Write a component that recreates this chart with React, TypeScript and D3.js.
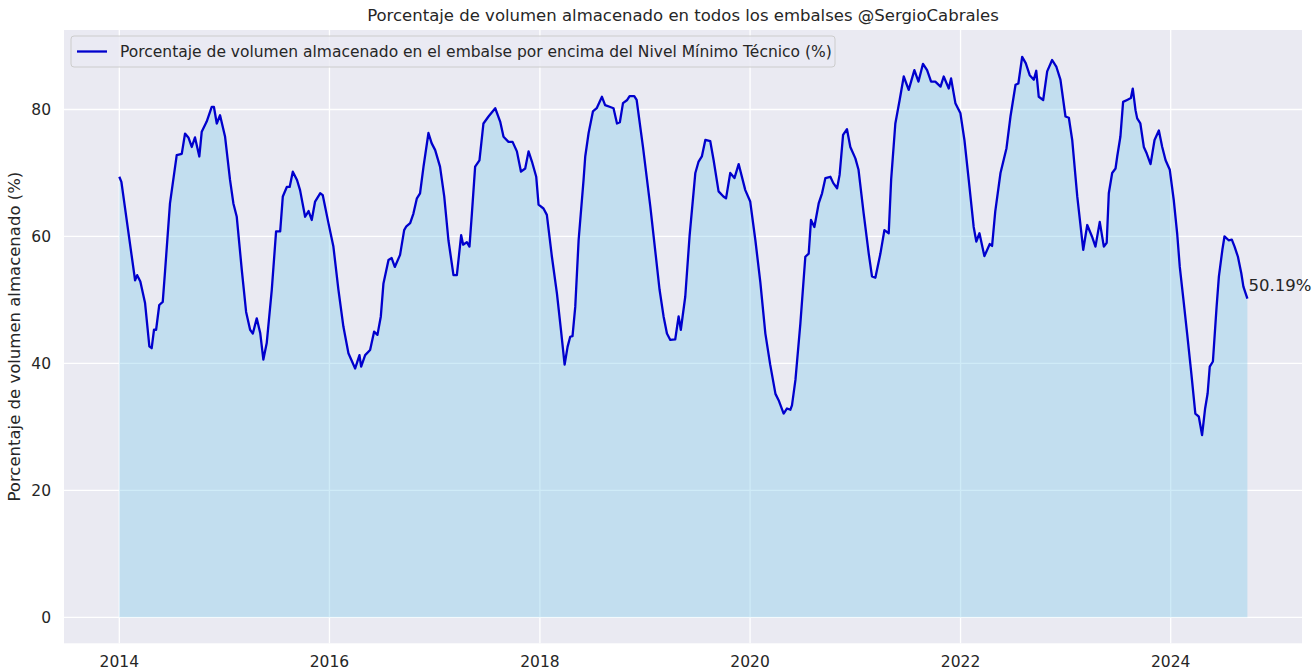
import React from "react";
import * as d3 from "d3";

const years: number[] = [
  2014.0, 2014.02, 2014.15, 2014.17, 2014.2, 2014.245, 2014.286, 2014.308, 2014.33, 2014.35,
  2014.38, 2014.413, 2014.435, 2014.482, 2014.546, 2014.594, 2014.625, 2014.657, 2014.689, 2014.72,
  2014.761, 2014.784, 2014.831, 2014.879, 2014.9, 2014.927, 2014.958, 2015.006, 2015.053, 2015.085,
  2015.117, 2015.165, 2015.206, 2015.244, 2015.27, 2015.307, 2015.34, 2015.37, 2015.402, 2015.45,
  2015.491, 2015.53, 2015.555, 2015.593, 2015.62, 2015.65, 2015.69, 2015.719, 2015.767, 2015.8,
  2015.83, 2015.862, 2015.91, 2015.935, 2015.989, 2016.036, 2016.084, 2016.131, 2016.179, 2016.243,
  2016.284, 2016.3, 2016.338, 2016.385, 2016.423, 2016.455, 2016.487, 2016.512, 2016.56, 2016.59,
  2016.62, 2016.67, 2016.709, 2016.73, 2016.766, 2016.797, 2016.83, 2016.86, 2016.893, 2016.94,
  2016.97, 2017.004, 2017.05, 2017.09, 2017.13, 2017.178, 2017.21, 2017.251, 2017.27, 2017.305,
  2017.33, 2017.353, 2017.384, 2017.425, 2017.463, 2017.511, 2017.575, 2017.622, 2017.654, 2017.701,
  2017.74, 2017.781, 2017.82, 2017.86, 2017.892, 2017.924, 2017.965, 2017.987, 2018.034, 2018.066,
  2018.114, 2018.162, 2018.2, 2018.235, 2018.263, 2018.288, 2018.31, 2018.336, 2018.368, 2018.415,
  2018.431, 2018.463, 2018.504, 2018.54, 2018.59, 2018.62, 2018.669, 2018.7, 2018.733, 2018.76,
  2018.79, 2018.83, 2018.853, 2018.897, 2018.92, 2018.98, 2019.05, 2019.138, 2019.176, 2019.208,
  2019.24, 2019.287, 2019.319, 2019.34, 2019.382, 2019.423, 2019.478, 2019.509, 2019.54, 2019.573,
  2019.62, 2019.652, 2019.699, 2019.745, 2019.77, 2019.81, 2019.85, 2019.89, 2019.953, 2020.0,
  2020.049, 2020.096, 2020.144, 2020.19, 2020.24, 2020.27, 2020.318, 2020.35, 2020.382, 2020.397,
  2020.43, 2020.477, 2020.524, 2020.556, 2020.578, 2020.61, 2020.651, 2020.683, 2020.715, 2020.762,
  2020.79, 2020.826, 2020.85, 2020.883, 2020.92, 2020.952, 2021.0, 2021.03, 2021.079, 2021.127,
  2021.158, 2021.19, 2021.238, 2021.276, 2021.317, 2021.34, 2021.38, 2021.421, 2021.46, 2021.507,
  2021.561, 2021.6, 2021.643, 2021.682, 2021.72, 2021.76, 2021.81, 2021.84, 2021.888, 2021.91,
  2021.951, 2021.999, 2022.037, 2022.078, 2022.125, 2022.15, 2022.18, 2022.227, 2022.278, 2022.3,
  2022.33, 2022.38, 2022.437, 2022.475, 2022.523, 2022.55, 2022.586, 2022.62, 2022.658, 2022.697,
  2022.72, 2022.744, 2022.786, 2022.824, 2022.871, 2022.912, 2022.95, 2022.998, 2023.03, 2023.062,
  2023.11, 2023.167, 2023.205, 2023.25, 2023.283, 2023.324, 2023.363, 2023.39, 2023.41, 2023.442,
  2023.474, 2023.49, 2023.52, 2023.546, 2023.584, 2023.62, 2023.638, 2023.664, 2023.68, 2023.71,
  2023.743, 2023.77, 2023.807, 2023.845, 2023.886, 2023.918, 2023.95, 2023.99, 2024.028, 2024.06,
  2024.085, 2024.12, 2024.155, 2024.195, 2024.233, 2024.266, 2024.297, 2024.326, 2024.35, 2024.37,
  2024.4, 2024.435, 2024.457, 2024.49, 2024.51, 2024.55, 2024.58, 2024.606, 2024.638, 2024.67,
  2024.69, 2024.728,
];

const volumes: number[] = [
  69.4, 68.6, 53.1, 53.9, 52.9, 49.5, 42.7, 42.4, 45.3, 45.3,
  49.2, 49.7, 54.5, 65.2, 72.8, 73.0, 76.2, 75.6, 74.1, 75.6,
  72.6, 76.5, 78.1, 80.4, 80.4, 77.8, 79.1, 75.7, 68.9, 65.2,
  63.1, 54.7, 48.1, 45.3, 44.7, 47.1, 44.8, 40.6, 43.2, 51.6,
  60.8, 60.8, 66.3, 67.8, 67.8, 70.2, 68.9, 67.3, 63.1, 64.0,
  62.6, 65.5, 66.8, 66.5, 62.1, 58.4, 51.6, 45.8, 41.6, 39.2,
  41.3, 39.5, 41.3, 42.1, 45.0, 44.5, 47.4, 52.6, 56.3, 56.6,
  55.2, 57.1, 61.0, 61.6, 62.1, 63.6, 66.0, 66.8, 71.0, 76.3,
  74.7, 73.6, 71.0, 66.3, 59.4, 53.9, 53.9, 60.2, 58.7, 59.1,
  58.4, 63.6, 71.0, 72.0, 77.8, 78.9, 80.2, 78.1, 75.7, 74.9,
  74.9, 73.4, 70.2, 70.7, 73.4, 71.8, 69.4, 65.0, 64.4, 63.4,
  56.8, 51.0, 45.3, 39.8, 42.6, 44.2, 44.3, 48.9, 59.4, 68.9,
  72.6, 76.3, 79.7, 80.2, 82.0, 80.7, 80.4, 80.2, 77.8, 78.0,
  81.0, 81.5, 82.1, 82.1, 81.5, 74.1, 64.7, 51.6, 47.4, 44.7,
  43.7, 43.8, 47.4, 45.3, 50.5, 60.0, 70.0, 71.8, 72.6, 75.2,
  75.0, 72.0, 67.1, 66.3, 66.0, 70.0, 69.2, 71.4, 67.3, 65.5,
  59.4, 52.8, 44.7, 39.8, 35.2, 34.2, 32.1, 32.9, 32.7, 33.4,
  37.4, 46.3, 56.8, 57.3, 62.6, 61.5, 65.2, 66.8, 69.2, 69.4,
  68.4, 67.6, 69.7, 76.0, 76.9, 74.1, 72.3, 70.5, 63.6, 57.3,
  53.7, 53.5, 57.3, 61.0, 60.5, 68.9, 77.8, 81.5, 85.2, 83.1,
  86.2, 84.4, 87.2, 86.2, 84.4, 84.4, 83.6, 85.2, 83.3, 84.9,
  81.0, 79.4, 75.2, 68.9, 61.5, 59.2, 60.5, 56.9, 58.8, 58.5,
  63.9, 70.0, 73.9, 78.9, 83.9, 84.1, 88.3, 87.3, 85.4, 84.7,
  86.1, 82.0, 81.5, 86.0, 87.8, 86.7, 84.7, 78.9, 78.7, 75.2,
  66.3, 57.9, 61.8, 60.0, 58.4, 62.3, 58.4, 59.0, 66.8, 70.0,
  70.7, 72.6, 75.7, 81.2, 81.5, 81.8, 83.3, 79.9, 78.6, 77.8,
  74.1, 73.1, 71.4, 75.2, 76.7, 74.1, 72.0, 70.5, 65.7, 60.5,
  55.2, 50.0, 44.7, 38.4, 32.1, 31.6, 28.7, 32.9, 35.3, 39.5,
  40.3, 48.9, 53.7, 57.9, 60.0, 59.4, 59.5, 58.4, 56.8, 54.2,
  52.1, 50.19,
];

const xTickYears: number[] = [2014, 2016, 2018, 2020, 2022, 2024];
const yTicks: number[] = [0, 20, 40, 60, 80];

const TITLE = "Porcentaje de volumen almacenado en todos los embalses @SergioCabrales";
const YLABEL = "Porcentaje de volumen almacenado (%)";
const LEGEND = "Porcentaje de volumen almacenado en el embalse por encima del Nivel Mínimo Técnico (%)";
const LAST_LABEL = "50.19%";

const W = 1312;
const H = 671;
const plot = { left: 64, right: 1302, top: 30, bottom: 643.3 };
const FONT = "'DejaVu Sans', sans-serif";
const TXT = "#262626";

const MS_YEAR = 365.25 * 86400000;
const toDate = (y: number) => new Date(Date.UTC(2014, 0, 1) + (y - 2014) * MS_YEAR);

export default function App() {
  const data = years.map((y, i) => ({ date: toDate(y), v: volumes[i] }));

  const x = d3
    .scaleUtc()
    .domain([new Date(Date.UTC(2014, 0, 1)), new Date(Date.UTC(2024, 0, 1))])
    .range([119.3, 1170.7]);
  const y = d3.scaleLinear().domain([0, 80]).range([617.3, 109.5]);

  const line = d3
    .line<{ date: Date; v: number }>()
    .x((d) => x(d.date))
    .y((d) => y(d.v));
  const area = d3
    .area<{ date: Date; v: number }>()
    .x((d) => x(d.date))
    .y0(() => y(0))
    .y1((d) => y(d.v));

  const last = data[data.length - 1];
  const xTicks = xTickYears.map((yr) => new Date(Date.UTC(yr, 0, 1)));
  const midY = (plot.top + plot.bottom) / 2;

  return (
    <svg
      width={W}
      height={H}
      style={{ position: "absolute", left: 0, top: 0, background: "#ffffff" }}
      fontFamily={FONT}
    >
      <rect x={0} y={0} width={W} height={H} fill="#ffffff" />
      <rect
        x={plot.left}
        y={plot.top}
        width={plot.right - plot.left}
        height={plot.bottom - plot.top}
        fill="#EAEAF2"
      />
      {xTicks.map((d, i) => (
        <line key={"gx" + i} x1={x(d)} x2={x(d)} y1={plot.top} y2={plot.bottom} stroke="#ffffff" strokeWidth={1.3} />
      ))}
      {yTicks.map((t) => (
        <line key={"gy" + t} x1={plot.left} x2={plot.right} y1={y(t)} y2={y(t)} stroke="#ffffff" strokeWidth={1.3} />
      ))}
      <path d={area(data) || ""} fill="#87CEEB" fillOpacity={0.4} />
      <path d={line(data) || ""} fill="none" stroke="#0000CD" strokeWidth={2.3} strokeLinejoin="round" />

      {xTicks.map((d, i) => (
        <text key={"tx" + i} x={x(d)} y={plot.bottom + 24} textAnchor="middle" fontSize={15.5} fill={TXT}>
          {xTickYears[i]}
        </text>
      ))}
      {yTicks.map((t) => (
        <text key={"ty" + t} x={plot.left - 13} y={y(t)} dy="0.35em" textAnchor="end" fontSize={15.5} fill={TXT}>
          {t}
        </text>
      ))}

      <text x={(plot.left + plot.right) / 2} y={21} textAnchor="middle" fontSize={16.5} fill={TXT}>
        {TITLE}
      </text>
      <text
        transform={`translate(20,${midY}) rotate(-90)`}
        textAnchor="middle"
        fontSize={16.5}
        fill={TXT}
      >
        {YLABEL}
      </text>

      <text x={x(last.date) + 1} y={y(last.v) - 8} fontSize={16.5} fill={TXT}>
        {LAST_LABEL}
      </text>

      <g>
        <rect x={71} y={36} width={764} height={31} rx={3} fill="#EAEAF2" fillOpacity={0.8} stroke="#CCCCCC" />
        <line x1={77} x2={107} y1={51.5} y2={51.5} stroke="#0000CD" strokeWidth={2.3} />
        <text x={120} y={51.5} dy="0.35em" fontSize={15.5} fill={TXT}>
          {LEGEND}
        </text>
      </g>
    </svg>
  );
}
